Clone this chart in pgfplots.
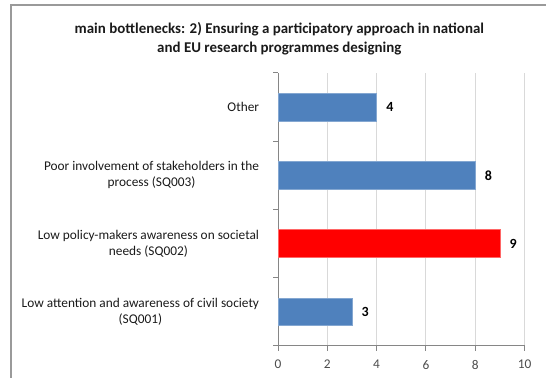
\documentclass[border=0pt]{standalone}
\usepackage{fontspec}
\setmainfont{Carlito}
\usepackage{pgfplots}
\pgfplotsset{compat=1.18}
\definecolor{barblue}{HTML}{4F81BD}
\definecolor{barred}{HTML}{FF0000}
\definecolor{axisgray}{HTML}{868686}
\definecolor{gridgray}{HTML}{D9D9D9}
\definecolor{framegray}{HTML}{9A9A9A}
\definecolor{txt}{HTML}{1A1A1A}
\begin{document}
\begin{tikzpicture}
\useasboundingbox (0,0) rectangle (409.5pt,283.5pt);
\draw[framegray, line width=1.1pt] (8.25pt,0) -- (8.25pt,279.75pt) -- (409.5pt,279.75pt);
\node[align=center, font=\fontsize{11.2}{14.5}\selectfont\bfseries, text=txt] at (209.5pt,254.5pt)
 {main bottlenecks: 2) Ensuring a participatory approach in national\\and EU research programmes designing};
\begin{axis}[
 at={(208.5pt,24pt)}, anchor=south west,
 scale only axis, width=184.9pt, height=204.75pt,
 xmin=0, xmax=10, ymin=-0.5, ymax=3.5,
 axis lines*=left,
 axis line style={draw=axisgray, line width=0.75pt},
 xtick={0,2,4,6,8,10},
 xmajorgrids, grid style={draw=gridgray, line width=0.75pt},
 ytick={0,1,2,3},
 yticklabels={{Low attention and awareness of civil society\\(SQ001)},
   {Low policy-makers awareness on societal\\needs (SQ002)},
   {Poor involvement of stakeholders in the\\process (SQ003)},
   {Other}},
 minor ytick={-0.5,0.5,1.5,2.5,3.5},
 major y tick style={draw=none},
 major tick length=3.5pt, minor tick length=3.5pt,
 tick align=outside,
 tick style={draw=axisgray, line width=0.75pt},
 yticklabel style={align=center, inner sep=0pt, xshift=-10.5pt, text=txt,
   font=\fontsize{10}{12}\selectfont},
 xticklabel style={inner sep=0pt, yshift=-7pt, text=black!70, font=\fontsize{10}{11}\selectfont},
 /pgf/number format/assume math mode=true,
 xbar, bar width=20.8pt,
 nodes near coords,
 nodes near coords style={anchor=west, inner sep=0pt, xshift=7pt, text=black,
   font=\fontsize{10.5}{12}\selectfont\bfseries},
 clip=false,
]
\addplot[bar shift=0pt, fill=barblue, draw=barblue!70!white, line width=0.5pt]
 coordinates {(3,0) (8,2) (4,3)};
\addplot[bar shift=0pt, fill=barred, draw=barred!60!white, line width=0.5pt]
 coordinates {(9,1)};
\end{axis}
\end{tikzpicture}
\end{document}
